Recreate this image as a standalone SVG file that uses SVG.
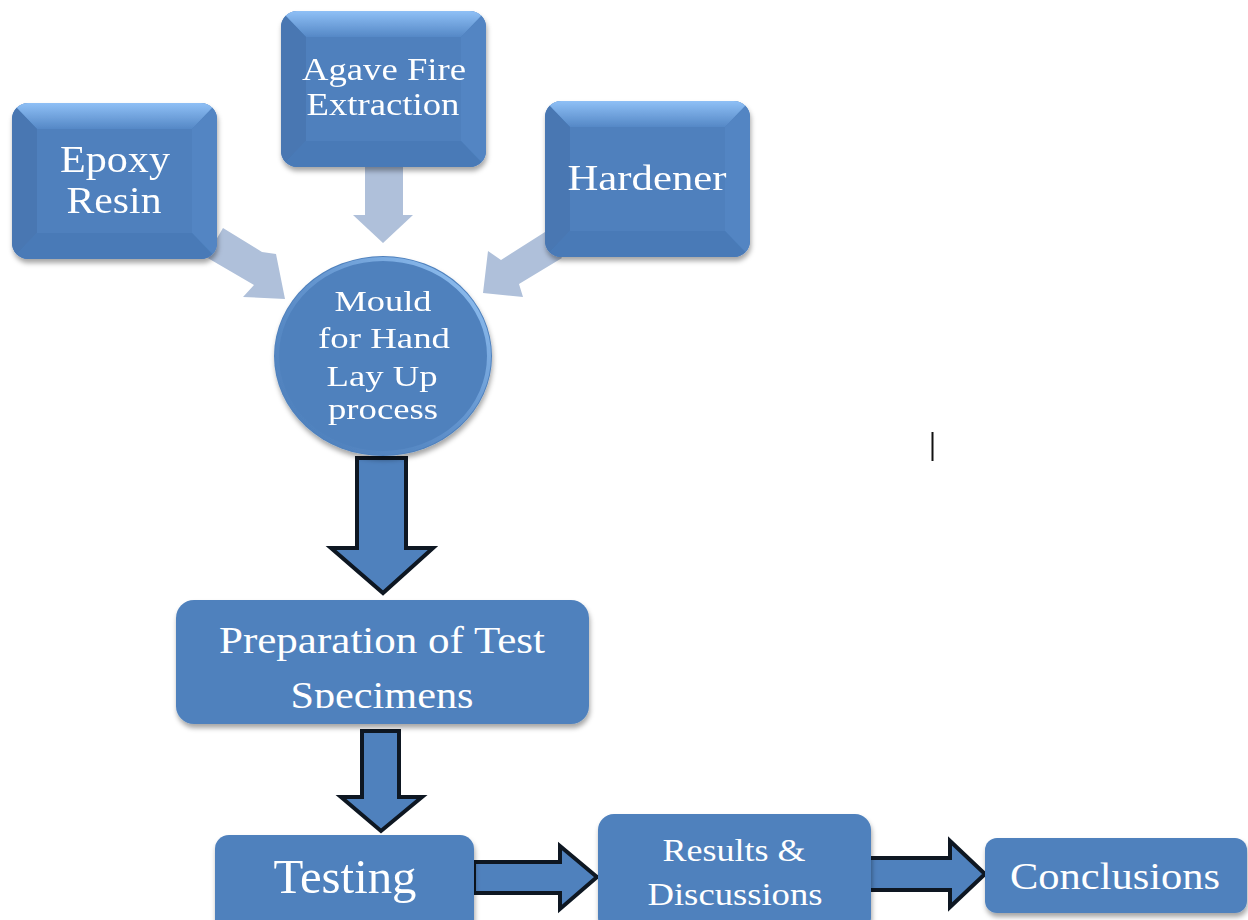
<svg xmlns="http://www.w3.org/2000/svg" width="1248" height="920" viewBox="0 0 1248 920">
<defs>
<style>
.t{font-family:"Liberation Serif","Times New Roman",serif;fill:#fff;text-anchor:middle}
.dark{fill:#4F81BD;stroke:#0E1722;stroke-width:4;stroke-linejoin:miter}
.light{fill:#AFC0DA}
.flat{fill:#4F81BD}
</style>
<filter id="sh" x="-10%" y="-10%" width="120%" height="130%">
<feDropShadow dx="1" dy="4" stdDeviation="2.5" flood-color="#000" flood-opacity="0.35"/>
</filter>
<linearGradient id="gTop" x1="0" y1="0" x2="0" y2="1">
<stop offset="0" stop-color="#8FC0F6"/>
<stop offset="1" stop-color="#5588C6"/>
</linearGradient>
<linearGradient id="gRim" x1="1" y1="0" x2="0" y2="1">
<stop offset="0" stop-color="#9CCBFA"/>
<stop offset="0.5" stop-color="#6E9FD8" stop-opacity="0.6"/>
<stop offset="1" stop-color="#4F81BD" stop-opacity="0"/>
</linearGradient>
<clipPath id="bbClip"><rect x="0" y="0" width="205" height="156" rx="16"/></clipPath>
<symbol id="bevel" viewBox="0 0 205 156" width="205" height="156" overflow="visible">
<rect x="0" y="0" width="205" height="156" rx="16" fill="#4F80BD"/>
<g clip-path="url(#bbClip)">
<polygon points="0,0 205,0 180,26 25,26" fill="url(#gTop)"/>
<polygon points="0,0 25,26 25,130 0,156" fill="#4877B2"/>
<polygon points="205,0 180,26 180,130 205,156" fill="#5285C3"/>
<polygon points="0,156 25,130 180,130 205,156" fill="#4A7AB7"/>
</g>
</symbol>
</defs>
<rect width="1248" height="920" fill="#fff"/>

<g id="connectors">
<polygon class="light" points="223,228 262,252 276,254 285,299 243,297 254,285 206,257"/>
<polygon class="light" points="365,166 403,166 403,215 413,215 383,243 353,215 365,215"/>
<polygon class="light" points="545,232 562,258 519,284 523,297 483,293 488,251 501,260"/>
<polygon class="dark" points="357,458 406,458 406,548 433,548 383,593 331,548 357,548"/>
<polygon class="dark" points="362,731 399,731 399,797 422,797 381,831 341,797 362,797"/>
<polygon class="dark" points="474,862 560,862 560,846 597,877 560,909 560,893 474,893"/>
<polygon class="dark" points="866,858 950,858 950,841 985,874 950,907 950,890 866,890"/>
</g>

<g id="epoxy" filter="url(#sh)">
<use href="#bevel" x="12" y="103"/>
<text class="t" x="115" y="172" font-size="37" textLength="110" lengthAdjust="spacingAndGlyphs">Epoxy</text>
<text class="t" x="114" y="213" font-size="37" textLength="95" lengthAdjust="spacingAndGlyphs">Resin</text>
</g>

<g id="agave" filter="url(#sh)">
<use href="#bevel" x="281" y="11"/>
<text class="t" x="384" y="80" font-size="31" textLength="164" lengthAdjust="spacingAndGlyphs">Agave Fire</text>
<text class="t" x="383" y="115" font-size="31" textLength="153" lengthAdjust="spacingAndGlyphs">Extraction</text>
</g>

<g id="hardener" filter="url(#sh)">
<use href="#bevel" x="545" y="101"/>
<text class="t" x="647" y="190" font-size="35" textLength="159" lengthAdjust="spacingAndGlyphs">Hardener</text>
</g>

<g id="mould" filter="url(#sh)">
<ellipse cx="383" cy="356" rx="109" ry="100" fill="#4F81BD"/>
<ellipse cx="383" cy="356" rx="106" ry="97" fill="none" stroke="url(#gRim)" stroke-width="4"/>
<text class="t" x="383" y="311" font-size="29" textLength="97" lengthAdjust="spacingAndGlyphs">Mould</text>
<text class="t" x="384" y="348" font-size="29" textLength="132" lengthAdjust="spacingAndGlyphs">for Hand</text>
<text class="t" x="382" y="386" font-size="29" textLength="111" lengthAdjust="spacingAndGlyphs">Lay Up</text>
<text class="t" x="383" y="419" font-size="29" textLength="110" lengthAdjust="spacingAndGlyphs">process</text>
</g>

<g id="preparation">
<clipPath id="prepClip"><rect x="176" y="600" width="413" height="108"/></clipPath>
<rect x="176" y="600" width="413" height="124" rx="18" class="flat" filter="url(#sh)"/>
<text class="t" x="382" y="653" font-size="37" textLength="326" lengthAdjust="spacingAndGlyphs">Preparation of Test</text>
<text class="t" x="382" y="708" font-size="37" textLength="183" lengthAdjust="spacingAndGlyphs" clip-path="url(#prepClip)">Specimens</text>
</g>

<g id="testing">
<rect x="215" y="835" width="259" height="100" rx="14" class="flat" filter="url(#sh)"/>
<text class="t" x="345" y="893" font-size="48" textLength="143" lengthAdjust="spacingAndGlyphs">Testing</text>
</g>

<g id="results">
<rect x="598" y="814" width="273" height="120" rx="16" class="flat" filter="url(#sh)"/>
<text class="t" x="734" y="861" font-size="32" textLength="143" lengthAdjust="spacingAndGlyphs">Results &amp;</text>
<text class="t" x="735" y="905" font-size="32" textLength="175" lengthAdjust="spacingAndGlyphs">Discussions</text>
</g>

<g id="conclusions">
<rect x="985" y="838" width="262" height="75" rx="12" class="flat" filter="url(#sh)"/>
<text class="t" x="1115" y="889" font-size="37" textLength="210" lengthAdjust="spacingAndGlyphs">Conclusions</text>
</g>

<line x1="932.5" y1="432" x2="932.5" y2="461" stroke="#111" stroke-width="2"/>
</svg>
